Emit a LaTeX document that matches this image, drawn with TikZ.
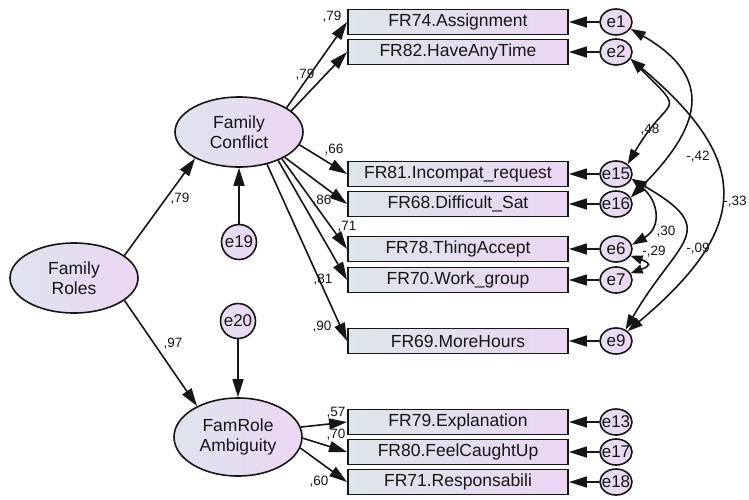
\documentclass[tikz,border=0pt]{standalone}
\usepackage{fontspec}
\setmainfont{Liberation Sans}
\usetikzlibrary{arrows.meta,shapes.geometric}

\definecolor{boxL}{RGB}{221,230,234}
\definecolor{boxR}{RGB}{235,214,243}
\definecolor{ellL}{RGB}{222,228,238}
\definecolor{ellR}{RGB}{237,214,243}
\definecolor{errL}{RGB}{228,224,240}
\definecolor{errR}{RGB}{238,214,244}
\definecolor{ink}{RGB}{22,22,22}

\begin{document}
\begin{tikzpicture}[x=1pt,y=-1pt,
  obs/.style={draw=ink, line width=1.9pt, minimum width=220pt, minimum height=25pt,
    inner sep=0pt, left color=boxL, right color=boxR, text=ink,
    font=\fontsize{17.5}{19}\selectfont},
  lat/.style={ellipse, draw=ink, line width=1.6pt, minimum width=128pt, minimum height=70pt,
    inner sep=0pt, left color=ellL, right color=ellR, align=center, text=ink,
    font=\fontsize{17.5}{19.5}\selectfont},
  errtxt/.style={inner sep=0pt, text=ink, font=\fontsize{17}{17}\selectfont},
  err/.style={ellipse, draw=ink, line width=1.6pt, minimum width=32pt, minimum height=26pt,
    inner sep=0pt, left color=errL, right color=errR, label={[errtxt]center:#1}},
  dstb/.style={circle, draw=ink, line width=1.6pt, minimum size=35pt,
    inner sep=0pt, left color=errL, right color=errR, label={[errtxt]center:#1}},
  reg/.style={draw=ink, line width=1.6pt, -{Triangle[length=18pt,width=11pt]}},
  covar/.style={draw=ink, line width=1.6pt,
    {Triangle[length=15pt,width=10pt]}-{Triangle[length=15pt,width=10pt]}},
  smallcov/.style={draw=ink, line width=1.6pt,
    {Triangle[length=12pt,width=9pt]}-{Triangle[length=12pt,width=9pt]}},
  coef/.style={inner sep=0pt, text=ink, font=\fontsize{13.5}{14}\selectfont}
]
\path[fill=white] (0,0) rectangle (749,499);
\useasboundingbox (0,0) rectangle (749,499);

% latent variables
\node[lat] (FR)  at (74,278)  {Family\\Roles};
\node[lat] (FC)  at (239,132) {Family\\Conflict};
\node[lat, minimum height=78pt] (FRA) at (238,437) {FamRole\\Ambiguity};

% disturbances
\node[dstb=e19] (e19) at (239,242) {};
\node[dstb=e20] (e20) at (238,321) {};

% observed indicators
\node[obs] (b74) at (458,22)  {FR74.Assignment};
\node[obs] (b82) at (458,52)  {FR82.HaveAnyTime};
\node[obs] (b81) at (458,174) {FR81.Incompat\_request};
\node[obs] (b68) at (458,204) {FR68.Difficult\_Sat};
\node[obs] (b78) at (458,249) {FR78.ThingAccept};
\node[obs] (b70) at (458,280) {FR70.Work\_group};
\node[obs] (b69) at (458,341) {FR69.MoreHours};
\node[obs] (b79) at (458,422) {FR79.Explanation};
\node[obs] (b80) at (458,452) {FR80.FeelCaughtUp};
\node[obs] (b71) at (458,482) {FR71.Responsabili};

% measurement errors
\node[err=e1]  (e1)  at (616,22)  {};
\node[err=e2]  (e2)  at (616,52)  {};
\node[err=e15] (e15) at (616,174) {};
\node[err=e16] (e16) at (616,204) {};
\node[err=e6]  (e6)  at (616,249) {};
\node[err=e7]  (e7)  at (616,280) {};
\node[err=e9]  (e9)  at (616,341) {};
\node[err=e13] (e13) at (616,422) {};
\node[err=e17] (e17) at (616,452) {};
\node[err=e18] (e18) at (616,482) {};

% structural paths
\draw[reg] (FR.24) -- (FC.211);
\draw[reg] (FR.-24) -- (FRA.143);
\draw[reg] (e19) -- (FC);
\draw[reg] (e20) -- (FRA);

% loadings
\draw[reg] (FC.27)  -- (b74.west);
\draw[reg] (FC.22)  -- (b82.west);
\draw[reg] (FC.-12) -- (b81.west);
\draw[reg] (FC.-29) -- (b68.west);
\draw[reg] (FC.-32) -- (b78.west);
\draw[reg] (FC.-36) -- (b70.west);
\draw[reg] (FC.-49) -- (b69.west);
\draw[reg] (FRA.9)   -- (b79.west);
\draw[reg] (FRA.-1)  -- (b80.west);
\draw[reg] (FRA.-10) -- (b71.west);

% error terms
\foreach \e/\b in {e1/b74, e2/b82, e15/b81, e16/b68, e6/b78, e7/b70, e9/b69,
                   e13/b79, e17/b80, e18/b71}
  \draw[reg] (\e) -- (\b);

% error covariances
\draw[covar] (e1.-25)  to[out=-30, in=45, looseness=1.5]  (e16.24);
\draw[covar] (e2.-25)  to[out=-45, in=60, looseness=2.0]  (e15.40);
\draw[covar] (e2.-25)  to[out=-40, in=40, looseness=1.5]  (e9.40);
\draw[covar] (e15.-17) to[out=-40, in=30, looseness=1.35] (e6.15);
\draw[covar] (e15.-17) to[out=-30, in=60, looseness=1.78] (e9.50);
\draw[smallcov] (e6.-25) to[out=-20, in=20, looseness=3.2] (e7.25);

% coefficients
\node[coef] (c1)  at (180,199) {,79};
\node[coef] (c2)  at (173,344) {,97};
\node[coef] (c3)  at (332,17)  {,79};
\node[coef] (c4)  at (305,75)  {,79};
\node[coef] (c5)  at (334,150) {,66};
\node[coef] (c6)  at (322,201) {,86};
\node[coef] (c7)  at (347,227) {,71};
\node[coef] (c8)  at (323,280) {,81};
\node[coef] (c9)  at (322,327) {,90};
\node[coef] (c10) at (336,413) {,57};
\node[coef] (c11) at (336,435) {,70};
\node[coef] (c12) at (319,482) {,60};
\node[coef] (c13) at (650,130) {,48};
\node[coef] (c14) at (698,157) {-,42};
\node[coef] (c15) at (735,202) {-,33};
\node[coef] (c16) at (666,232) {,30};
\node[coef] (c17) at (698,249) {-,09};
\node[coef] (c18) at (654,252) {-,29};
\end{tikzpicture}
\end{document}
